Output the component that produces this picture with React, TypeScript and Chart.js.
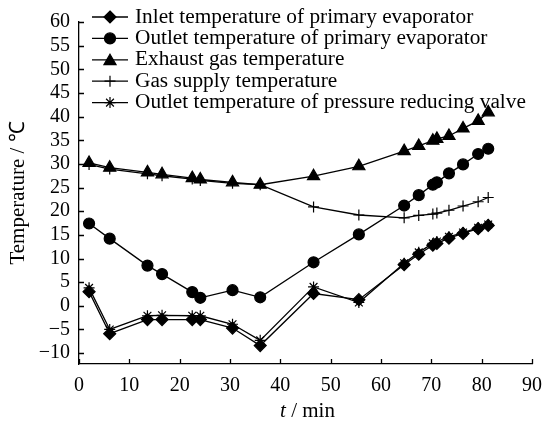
import React, { useEffect, useRef } from "react";
import { Chart, registerables } from "chart.js";

Chart.register(...registerables);

const times = [2.0, 6.1, 13.6, 16.5, 22.5, 24.1, 30.5, 36.0, 46.6, 55.6, 64.6, 67.5, 70.3, 71.1, 73.5, 76.3, 79.3, 81.3];
const inletPrimary = [3.0, -5.9, -2.9, -2.9, -2.9, -2.9, -4.7, -8.4, 2.6, 1.3, 8.7, 10.9, 12.8, 13.2, 14.3, 15.3, 16.3, 17.0];
const outletPrimary = [17.4, 14.2, 8.5, 6.7, 2.9, 1.7, 3.3, 1.8, 9.2, 15.1, 21.2, 23.4, 25.6, 26.1, 28.0, 29.9, 32.1, 33.2];
const exhaustGas = [30.2, 29.2, 28.2, 27.8, 27.0, 26.7, 26.1, 25.6, 27.4, 29.5, 32.7, 33.8, 34.9, 35.3, 35.9, 37.5, 39.1, 40.9];
const gasSupply = [29.9, 28.9, 27.9, 27.5, 26.8, 26.5, 25.9, 25.6, 20.9, 19.2, 18.6, 19.1, 19.4, 19.6, 20.2, 21.1, 22.0, 22.9];
const prvOutlet = [3.8, -5.0, -2.1, -2.0, -2.1, -2.1, -3.9, -7.3, 4.0, 0.7, 9.0, 11.3, 13.2, 13.6, 14.6, 15.5, 16.5, 17.2];

const seriesNames = [
  "Inlet temperature of primary evaporator",
  "Outlet temperature of primary evaporator",
  "Exhaust gas temperature",
  "Gas supply temperature",
  "Outlet temperature of pressure reducing valve",
];
const xTitleItalic = "t";
const xTitleRest = " / min";
const yTitle = "Temperature / \u2103";

const FONT = "'Liberation Serif', 'Times New Roman', serif";

function drawMarker(ctx: CanvasRenderingContext2D, style: string, r: number, x: number, y: number) {
  ctx.save();
  ctx.fillStyle = "#000";
  ctx.strokeStyle = "#000";
  ctx.lineWidth = 1.2;
  ctx.beginPath();
  if (style === "rectRot") {
    ctx.moveTo(x, y - r);
    ctx.lineTo(x + r, y);
    ctx.lineTo(x, y + r);
    ctx.lineTo(x - r, y);
    ctx.closePath();
    ctx.fill();
    ctx.stroke();
  } else if (style === "circle") {
    ctx.arc(x, y, r, 0, Math.PI * 2);
    ctx.closePath();
    ctx.fill();
    ctx.stroke();
  } else if (style === "triangle") {
    const a = -Math.PI / 2;
    for (let k = 0; k < 3; k++) {
      const ang = a + (k * 2 * Math.PI) / 3;
      const px = x + Math.cos(ang) * r;
      const py = y + Math.sin(ang) * r + r * 0.2;
      if (k === 0) ctx.moveTo(px, py);
      else ctx.lineTo(px, py);
    }
    ctx.closePath();
    ctx.fill();
    ctx.stroke();
  } else if (style === "cross") {
    ctx.moveTo(x - r, y);
    ctx.lineTo(x + r, y);
    ctx.moveTo(x, y - r);
    ctx.lineTo(x, y + r);
    ctx.stroke();
  } else if (style === "star") {
    for (let k = 0; k < 4; k++) {
      const ang = (k * Math.PI) / 4;
      ctx.moveTo(x - Math.cos(ang) * r, y - Math.sin(ang) * r);
      ctx.lineTo(x + Math.cos(ang) * r, y + Math.sin(ang) * r);
    }
    ctx.stroke();
  }
  ctx.restore();
}

export default function App() {
  const ref = useRef<HTMLCanvasElement | null>(null);

  useEffect(() => {
    if (!ref.current) return;
    const styles = ["rectRot", "circle", "triangle", "cross", "star"];
    const radii = [6, 5.5, 7, 5.5, 5.5];
    const values = [inletPrimary, outletPrimary, exhaustGas, gasSupply, prvOutlet];

    const datasets = values.map((vals, i) => ({
      label: seriesNames[i],
      data: times.map((t, j) => ({ x: t, y: vals[j] })),
      borderColor: "#000",
      backgroundColor: "#000",
      borderWidth: 1.3,
      pointStyle: styles[i] as any,
      pointRadius: radii[i],
      pointBorderWidth: 1.2,
      pointBackgroundColor: "#000",
      pointBorderColor: "#000",
      tension: 0,
    }));

    const decor = {
      id: "decor",
      afterDraw(chart: any) {
        const ctx = chart.ctx as CanvasRenderingContext2D;
        const xs = chart.scales.x;
        const ys = chart.scales.y;
        const area = chart.chartArea;
        ctx.save();
        ctx.strokeStyle = "#000";
        ctx.lineWidth = 1.3;
        // inward ticks
        ctx.beginPath();
        xs.ticks.forEach((t: any) => {
          const px = Math.round(xs.getPixelForValue(t.value)) + 0.5;
          ctx.moveTo(px, area.bottom);
          ctx.lineTo(px, area.bottom - 5);
        });
        ys.ticks.forEach((t: any) => {
          const py = Math.round(ys.getPixelForValue(t.value)) + 0.5;
          ctx.moveTo(area.left, py);
          ctx.lineTo(area.left + 5, py);
        });
        ctx.stroke();

        // legend
        const rowY0 = 17;
        const dy = 21.4;
        for (let i = 0; i < seriesNames.length; i++) {
          const y = rowY0 + i * dy;
          ctx.beginPath();
          ctx.lineWidth = 1.3;
          ctx.strokeStyle = "#000";
          ctx.moveTo(92, y);
          ctx.lineTo(128, y);
          ctx.stroke();
          drawMarker(ctx, styles[i], radii[i], 110, y);
          ctx.fillStyle = "#000";
          ctx.font = `21.3px ${FONT}`;
          ctx.textBaseline = "middle";
          ctx.textAlign = "left";
          ctx.fillText(seriesNames[i], 135, y);
        }

        // axis titles
        ctx.fillStyle = "#000";
        ctx.textBaseline = "middle";
        ctx.font = `21px ${FONT}`;
        ctx.save();
        ctx.translate(18.5, (area.top + area.bottom) / 2);
        ctx.rotate(-Math.PI / 2);
        ctx.textAlign = "center";
        ctx.fillText(yTitle, 0, 0);
        ctx.restore();

        ctx.font = `italic 21px ${FONT}`;
        const w1 = ctx.measureText(xTitleItalic).width;
        ctx.font = `21px ${FONT}`;
        const w2 = ctx.measureText(xTitleRest).width;
        const cx = (area.left + area.right) / 2 + 2;
        const startX = cx - (w1 + w2) / 2;
        ctx.textAlign = "left";
        ctx.font = `italic 21px ${FONT}`;
        ctx.fillText(xTitleItalic, startX, 411);
        ctx.font = `21px ${FONT}`;
        ctx.fillText(xTitleRest, startX + w1, 411);
        ctx.restore();
      },
    };

    const chart = new Chart(ref.current, {
      type: "line",
      data: { datasets: datasets as any },
      options: {
        animation: false,
        responsive: true,
        maintainAspectRatio: false,
        layout: { padding: { top: 22, right: 14, left: 0, bottom: 0 } },
        plugins: { legend: { display: false }, tooltip: { enabled: false } },
        scales: {
          x: {
            type: "linear",
            min: 0,
            max: 90,
            grid: { display: false, drawTicks: false },
            border: { display: true, color: "#000", width: 1.3 },
            ticks: {
              stepSize: 10,
              autoSkip: false,
              color: "#000",
              padding: 10,
              maxRotation: 0,
              font: { family: FONT, size: 20 },
            },
            afterFit: (s: any) => {
              s.height = 65;
            },
          },
          y: {
            type: "linear",
            min: -12.3,
            max: 60,
            grid: { display: false, drawTicks: false },
            border: { display: true, color: "#000", width: 1.3 },
            ticks: {
              stepSize: 5,
              autoSkip: false,
              includeBounds: false,
              color: "#000",
              padding: 9,
              font: { family: FONT, size: 20 },
              callback: (v: any) => String(v).replace("-", "\u2212"),
            },
            afterFit: (s: any) => {
              s.width = 79;
            },
          },
        },
      },
      plugins: [decor],
    });
    return () => chart.destroy();
  }, []);

  return (
    <div style={{ position: "absolute", left: 0, top: 0, width: 552, height: 429, background: "#fff" }}>
      <canvas ref={ref} />
    </div>
  );
}
